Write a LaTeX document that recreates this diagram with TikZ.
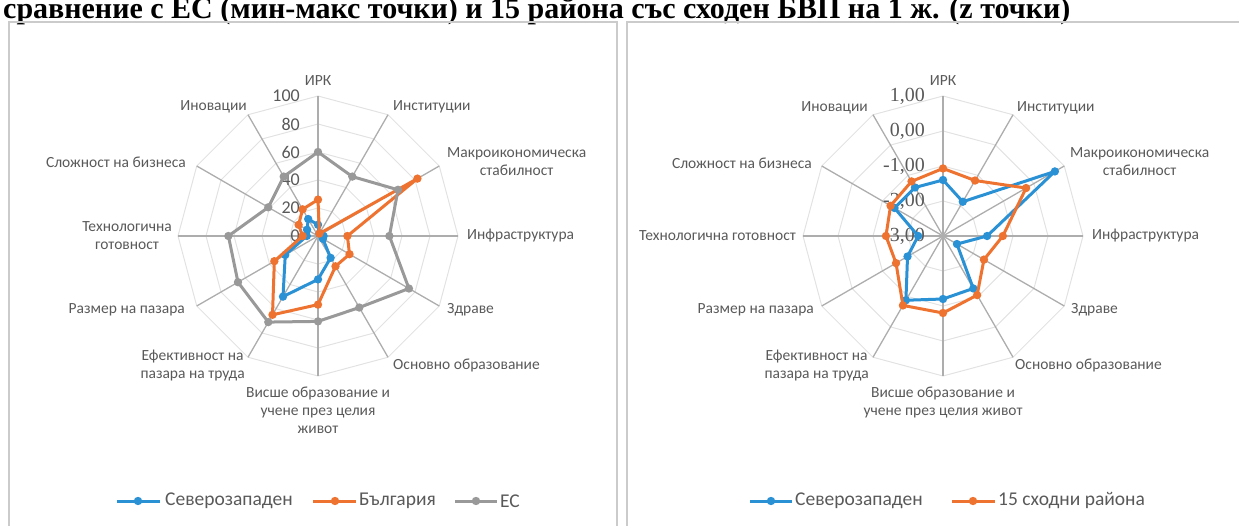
\documentclass[tikz,border=0pt]{standalone}
\usepackage{fontspec}
\setmainfont{Carlito}
\newfontfamily\titlefont{Liberation Serif}
\newfontfamily\axisfont{Liberation Serif}

\definecolor{nwblue}{HTML}{2B91D5}
\definecolor{bgorange}{HTML}{EE7330}
\definecolor{eugray}{HTML}{999999}
\definecolor{ringgray}{HTML}{E2E2E2}
\definecolor{spokegray}{HTML}{ADADAD}
\definecolor{labelgray}{HTML}{595959}
\definecolor{framegray}{HTML}{CBCBCB}

\begin{document}
\begin{tikzpicture}[x=1pt, y=1pt,
  ring/.style={draw=ringgray, line width=1pt},
  spoke/.style={draw=spokegray, line width=1.3pt},
  catlabel/.style={text=labelgray, font=\fontsize{15.5}{18}\selectfont, align=center, inner sep=0pt},
  vallabel/.style={text=labelgray, anchor=east, inner sep=0pt},
  series/.style={line width=3pt, line join=round},
  legtext/.style={text=labelgray, font=\fontsize{19.5}{22}\selectfont, anchor=west, inner sep=0pt}
]
\useasboundingbox (0,0) rectangle (1239,525);
\clip (0,0) rectangle (1239,525);

% title, only its lower part is on the page
\node[anchor=base west, inner sep=0pt, font=\titlefont\bfseries\fontsize{30}{32}\selectfont] (title) at (3,506)
  {сравнение с ЕС (мин-макс точки) и 15 района със сходен БВП на 1 ж. (z точки)};

% panels
\draw[framegray, line width=1.2pt] (9,503) rectangle (617,-10);
\draw[framegray, line width=1.2pt] (627,503) rectangle (1250,-10);

% left chart: min-max points
\begin{scope}[shift={(318,289)}]
\foreach \r in {28,56,...,140}
  \draw[ring] (0:\r) \foreach \a in {30,60,...,330} { -- (\a:\r) } -- cycle;
\foreach \a in {0,30,...,330}
  \draw[spoke] (0,0) -- (\a:140);
\foreach \v in {0,20,...,100}
  \node[vallabel, font=\fontsize{18}{20}\selectfont] (valA\v) at (-18,{1.4*\v}) {\v};

\node[catlabel, anchor=south] (irkA) at (0,150) {ИРК};
\node[catlabel, anchor=west] (instA) at (75,129) {Институции};
\node[catlabel, anchor=west] (macroA) at (129,74) {Макроикономическа\\стабилност};
\node[catlabel, anchor=west] (infraA) at (149,0) {Инфраструктура};
\node[catlabel, anchor=west] (healthA) at (129,-74) {Здраве};
\node[catlabel, anchor=west] (basicA) at (75,-129) {Основно образование};
\node[catlabel, anchor=north] (higherA) at (0,-151) {Висше образование и\\учене през целия\\живот};
\node[catlabel, anchor=east] (labourA) at (-73,-130) {Ефективност на\\пазара на труда};
\node[catlabel, anchor=east] (marketA) at (-133,-74) {Размер на пазара};
\node[catlabel, anchor=east] (techA) at (-146,0) {Технологична\\готовност};
\node[catlabel, anchor=east] (businessA) at (-132,74) {Сложност на бизнеса};
\node[catlabel, anchor=east] (innovA) at (-71,129) {Иновации};

\foreach \v [count=\i] in {8,2,3,4,4,18,31,50,27,8,9,14}
  \coordinate (nwA\i) at ({120-30*\i}:{1.4*\v});
\foreach \v [count=\i] in {26,2,82,21,26,25,49,65,36,11,16,22}
  \coordinate (bg\i) at ({120-30*\i}:{1.4*\v});
\foreach \v [count=\i] in {60,49,66,51,75,59,61,71,66,64,41,49}
  \coordinate (eu\i) at ({120-30*\i}:{1.4*\v});

\draw[series, nwblue] (nwA1) -- (nwA2) -- (nwA3) -- (nwA4) -- (nwA5) -- (nwA6) -- (nwA7)
  -- (nwA8) -- (nwA9) -- (nwA10) -- (nwA11) -- (nwA12) -- cycle;
\foreach \i in {1,...,12} \fill[nwblue] (nwA\i) circle[radius=4.2];
\draw[series, bgorange] (bg1) -- (bg2) -- (bg3) -- (bg4) -- (bg5) -- (bg6) -- (bg7)
  -- (bg8) -- (bg9) -- (bg10) -- (bg11) -- (bg12) -- cycle;
\foreach \i in {1,...,12} \fill[bgorange] (bg\i) circle[radius=4.2];
\draw[series, eugray] (eu1) -- (eu2) -- (eu3) -- (eu4) -- (eu5) -- (eu6) -- (eu7)
  -- (eu8) -- (eu9) -- (eu10) -- (eu11) -- (eu12) -- cycle;
\foreach \i in {1,...,12} \fill[eugray] (eu\i) circle[radius=4.2];
\end{scope}

% legend, left
\draw[series, nwblue] (117,24) -- (160,24);
\fill[nwblue] (138,24) circle[radius=4.2];
\node[legtext] (legNwA) at (165,24) {Северозападен};
\draw[series, bgorange] (313,24) -- (356,24);
\fill[bgorange] (335,24) circle[radius=4.2];
\node[legtext] (legBg) at (359,24) {България};
\draw[series, eugray] (455,24) -- (497,24);
\fill[eugray] (476,24) circle[radius=4.2];
\node[legtext] (legEu) at (500,24) {ЕС};

% right chart: z points
\begin{scope}[shift={(943,289)}]
\foreach \r in {35,70,...,140}
  \draw[ring] (0:\r) \foreach \a in {30,60,...,330} { -- (\a:\r) } -- cycle;
\foreach \a in {0,30,...,330}
  \draw[spoke] (0,0) -- (\a:140);
\foreach \t [count=\i] in {-3,-2,-1,0,1}
  \node[vallabel, font=\axisfont\fontsize{20}{22}\selectfont] (valB\i) at (-18,{35*(\i-1)}) {\t,00};

\node[catlabel, anchor=south] (irkB) at (0,150) {ИРК};
\node[catlabel, anchor=west] (instB) at (74,128) {Институции};
\node[catlabel, anchor=west] (macroB) at (127,74) {Макроикономическа\\стабилност};
\node[catlabel, anchor=west] (infraB) at (149,0) {Инфраструктура};
\node[catlabel, anchor=west] (healthB) at (128,-74) {Здраве};
\node[catlabel, anchor=west] (basicB) at (72,-129) {Основно образование};
\node[catlabel, anchor=north] (higherB) at (0,-151) {Висше образование и\\учене през целия живот};
\node[catlabel, anchor=east] (labourB) at (-74,-130) {Ефективност на\\пазара на труда};
\node[catlabel, anchor=east] (marketB) at (-129,-74) {Размер на пазара};
\node[catlabel, anchor=east] (techB) at (-147,0) {Технологична готовност};
\node[catlabel, anchor=east] (businessB) at (-131,73) {Сложност на бизнеса};
\node[catlabel, anchor=east] (innovB) at (-75,128) {Иновации};

\foreach \v [count=\i] in {-1.4,-1.87,0.69,-1.74,-2.54,-1.27,-1.2,-0.88,-1.83,-2.29,-1.4,-1.4}
  \coordinate (nwB\i) at ({120-30*\i}:{35*(\v+3)});
\foreach \v [count=\i] in {-1.07,-1.17,-0.26,-1.29,-1.65,-1.05,-0.8,-0.71,-1.45,-1.37,-1.27,-1.2}
  \coordinate (sd\i) at ({120-30*\i}:{35*(\v+3)});

\draw[series, nwblue] (nwB1) -- (nwB2) -- (nwB3) -- (nwB4) -- (nwB5) -- (nwB6) -- (nwB7)
  -- (nwB8) -- (nwB9) -- (nwB10) -- (nwB11) -- (nwB12) -- cycle;
\foreach \i in {1,...,12} \fill[nwblue] (nwB\i) circle[radius=4.2];
\draw[series, bgorange] (sd1) -- (sd2) -- (sd3) -- (sd4) -- (sd5) -- (sd6) -- (sd7)
  -- (sd8) -- (sd9) -- (sd10) -- (sd11) -- (sd12) -- cycle;
\foreach \i in {1,...,12} \fill[bgorange] (sd\i) circle[radius=4.2];
\end{scope}

% legend, right
\draw[series, nwblue] (750,24) -- (792,24);
\fill[nwblue] (771,24) circle[radius=4.2];
\node[legtext] (legNwB) at (795,24) {Северозападен};
\draw[series, bgorange] (952,24) -- (995,24);
\fill[bgorange] (973,24) circle[radius=4.2];
\node[legtext] (legSd) at (998,24) {15 сходни района};
\end{tikzpicture}
\end{document}
